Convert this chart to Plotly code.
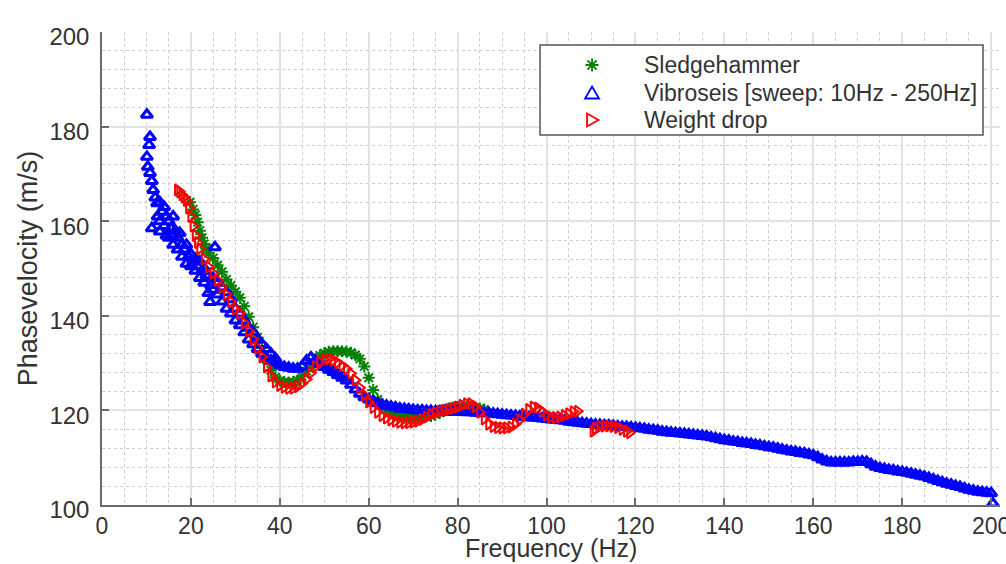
import plotly.graph_objects as go

# ---------------- data ----------------
# Vibroseis: scattered low-frequency points
vib_low_freq = [10.1, 10.8, 10.6, 10.1, 10.3, 10.8, 11.2, 11.5, 11.2, 12.0, 12.4, 12.5, 13, 13, 13, 13.5,
                14, 14, 14.5, 14.5, 15, 15, 15.5, 16, 16, 16, 16.5, 17, 17, 17.5, 18, 18, 18.5, 19, 19,
                19.5, 20, 20, 20.5, 21, 21, 21.5, 22, 22, 22.5, 23, 23, 23.5, 23.9, 24.3, 25.4, 24, 24.5,
                25, 25, 26, 26, 27, 27, 28, 28, 29, 29, 30, 30, 31, 31, 32, 32, 33, 33, 34, 34, 35, 35,
                36, 36, 37, 37, 38, 38, 39, 39]
vib_low_vel = [182.5, 177.8, 176.1, 173.6, 171.5, 170.2, 168.5, 166.6, 158.5, 165, 163.8, 161, 164, 160,
               157.8, 162, 163, 159, 161, 157, 160, 156.5, 158.5, 161, 157, 155, 158, 156.5, 154, 157.5,
               155, 152.5, 154, 155, 151, 152.5, 153, 150.5, 151.5, 152, 149.5, 150.5, 151.5, 148, 149.5,
               150, 147, 148.5, 144.8, 142.9, 154.5, 148.5, 146.5, 148, 145.5, 147, 144.5, 146, 143, 145,
               141.5, 143.5, 140.5, 141.5, 139, 140.5, 138, 139, 136.5, 137.5, 135, 136.5, 134, 135, 133,
               134, 132, 133, 131, 132, 130.5, 131, 130]
# Vibroseis: main curve 40 ... 200 Hz (1 Hz steps) + last lone point
vib_main_freq = list(range(40, 201)) + [200.4]
vib_main_vel = [
    129.5, 129.2, 129, 128.8, 128.8, 129.3, 130.5, 131.2, 130.5, 129.8,
    129.2, 128.6, 128.1, 127.5, 126.9, 126.3, 125.4, 124.4, 123.5, 122.8,
    122.3, 121.9, 121.5, 121.2, 121, 120.8, 120.6, 120.4, 120.3, 120.2,
    120.1, 120, 120, 119.9, 119.9, 119.8, 119.8, 119.8, 119.7, 119.7,
    119.7, 119.7, 119.6, 119.6, 119.5, 119.5, 119.4, 119.4, 119.3, 119.2,
    119.1, 119, 118.9, 118.8, 118.7, 118.6, 118.5, 118.5, 118.4, 118.3,
    118.2, 118.1, 118, 117.9, 117.8, 117.6, 117.5, 117.4, 117.3, 117.2,
    117.1, 117, 116.9, 116.8, 116.8, 116.7, 116.6, 116.5, 116.5, 116.4,
    116.3, 116.2, 116.1, 115.9, 115.8, 115.7, 115.5, 115.4, 115.3, 115.2,
    115.1, 115, 114.9, 114.8, 114.7, 114.6, 114.5, 114.3, 114.1, 113.9,
    113.7, 113.6, 113.4, 113.3, 113.1, 113, 112.9, 112.7, 112.6, 112.4,
    112.2, 112.1, 111.9, 111.7, 111.5, 111.3, 111.2, 111, 110.9, 110.7,
    110.5, 110.1, 109.6, 109.2, 109, 109, 109, 109, 109, 109.1,
    109.1, 109.2, 109.1, 108.6, 108.1, 107.8, 107.6, 107.4, 107.3, 107.1,
    107, 106.8, 106.6, 106.4, 106.2, 106, 105.7, 105.4, 105.1, 104.8,
    104.5, 104.3, 104, 103.8, 103.5, 103.2, 103, 102.8, 102.7, 102.6,
    102.5, 100.3]

# Weight drop
wd_freq = ([17, 17.5, 18, 18.5, 19, 19.5, 20, 20.5, 21, 21.5, 22] + list(range(23, 108))
           + [110.5, 111, 112, 113, 114, 115, 116, 117, 118, 118.7])
wd_vel = [
    166.6, 166.2, 165.6, 165.1, 164.4, 162.8, 161, 159, 157, 155.5, 154.2,
    152, 150.3, 149, 147.5, 146, 144.5, 143,                                   # 23-29
    141.5, 140.5, 138.5, 136.8, 135, 133.2, 131.3, 129.2, 127.3, 126,          # 30-39
    125.3, 124.9, 124.7, 124.7, 125, 125.7, 126.6, 127.9, 129.2, 130.2,        # 40-49
    130.7, 130.8, 130.6, 130.1, 129.5, 128.8, 127.8, 126.4, 124.8, 123.2,      # 50-59
    121.8, 120.6, 119.6, 118.9, 118.4, 118, 117.7, 117.5, 117.4, 117.4,        # 60-69
    117.5, 117.7, 118.1, 118.6, 119.1, 119.5, 119.8, 120, 120.2, 120.4,        # 70-79
    120.7, 121.1, 121.4, 121.4, 120.8, 119.6, 118.2, 117.1, 116.6, 116.4,      # 80-89
    116.3, 116.3, 116.5, 117.1, 118, 119.2, 120.2, 120.7, 120.5, 119.8,        # 90-99
    119, 118.6, 118.5, 118.6, 118.9, 119.3, 119.7, 119.8,                      # 100-107
    115.6, 116.2, 116.6, 116.7, 116.7, 116.6, 116.4, 116.0, 115.6, 115.3]

# Sledgehammer
sh_freq = [19.8, 20.5, 21, 21.5, 22, 22.5, 23, 23.5] + list(range(24, 87))
sh_vel = [
    164, 162.5, 161.3, 159.8, 158, 156.5, 155.2, 154.2,
    153.2, 152.2, 150.7, 149.3, 147.7, 146.4,                                  # 24-29
    145.1, 143.8, 142, 139.8, 137.6, 135.4, 133.2, 130.8, 128.5, 127,          # 30-39
    126.3, 126, 125.9, 126, 126.4, 127.2, 128.3, 129.6, 130.8, 131.6,          # 40-49
    132.1, 132.4, 132.5, 132.5, 132.5, 132.4, 132.2, 131.7, 130.9, 129.3,      # 50-59
    126.9, 124.3, 122.3, 121, 120.2, 119.7, 119.3, 119.1, 118.9, 118.8,        # 60-69
    118.7, 118.6, 118.6, 118.7, 118.8, 119.1, 119.5, 120, 120.4, 120.6,        # 70-79
    120.7, 120.8, 120.8, 120.7, 120.6, 120.4, 120.2]                           # 80-86

series_names = ["Sledgehammer", "Vibroseis [sweep: 10Hz - 250Hz]", "Weight drop"]
x_ticks = [0, 20, 40, 60, 80, 100, 120, 140, 160, 180, 200]
y_ticks = [100, 120, 140, 160, 180, 200]
x_title = "Frequency (Hz)"
y_title = "Phasevelocity (m/s)"

# ---------------- styles ----------------
FONT = "Liberation Sans, Arial, Helvetica, sans-serif"
AXIS_COL = "#6a6a6a"
TEXT_COL = "#333333"
GREEN, BLUE, RED = "#008000", "#0000ff", "#ff0000"
SYMBOLS = ["asterisk-open", "triangle-up-open", "triangle-right-open"]
COLORS = [GREEN, BLUE, RED]

fig = go.Figure()
fig.add_trace(go.Scatter(
    x=sh_freq, y=sh_vel, mode="markers", name=series_names[0], showlegend=False,
    marker=dict(symbol=SYMBOLS[0], size=10, color=GREEN, line=dict(color=GREEN, width=2))))
fig.add_trace(go.Scatter(
    x=vib_low_freq + vib_main_freq, y=vib_low_vel + vib_main_vel, mode="markers",
    name=series_names[1], showlegend=False,
    marker=dict(symbol=SYMBOLS[1], size=10, color=BLUE, line=dict(color=BLUE, width=3))))
fig.add_trace(go.Scatter(
    x=wd_freq, y=wd_vel, mode="markers", name=series_names[2], showlegend=False,
    marker=dict(symbol=SYMBOLS[2], size=10, color=RED, line=dict(color=RED, width=2))))

# ---- hand-drawn legend box (MATLAB style) ----
L_LEFT, L_RIGHT, L_TOP, L_BOTTOM = 0.4878, 0.9811, 0.9725, 0.7822
KEY_X, TEXT_X = 0.5457, 0.6013
ROW_Y = [0.9302, 0.8710, 0.8140]
KEY_PATHS = [
    "M-6.5,0L6.5,0M0,-6.5L0,6.5M-4.6,-4.6L4.6,4.6M-4.6,4.6L4.6,-4.6",   # asterisk
    "M-7,-5.5L7,-5.5L0,6.5Z",                                            # triangle up (y up)
    "M-5,-6.5L6.5,0L-5,6.5Z",                                            # triangle right
]
fig.add_shape(type="rect", xref="paper", yref="paper", x0=L_LEFT, x1=L_RIGHT, y0=L_BOTTOM, y1=L_TOP,
              line=dict(color="#555555", width=1.5), fillcolor="white", layer="above")
for i, name in enumerate(series_names):
    fig.add_shape(type="path", xref="paper", yref="paper", xsizemode="pixel", ysizemode="pixel",
                  xanchor=KEY_X, yanchor=ROW_Y[i], path=KEY_PATHS[i],
                  line=dict(color=COLORS[i], width=1.8), layer="above")
    fig.add_annotation(x=TEXT_X, y=ROW_Y[i], xref="paper", yref="paper", text=name, showarrow=False,
                       xanchor="left", yanchor="middle",
                       font=dict(family=FONT, size=23, color=TEXT_COL))

# x-axis title placed as a centred text just under the tick labels
fig.add_annotation(x=0.5, y=0, xref="paper", yref="paper", text=x_title, showarrow=False,
                   xanchor="center", yanchor="top", yshift=-28, borderpad=0,
                   font=dict(family=FONT, size=25, color=TEXT_COL))

axis_common = dict(
    showline=True, linecolor=AXIS_COL, linewidth=1.5, mirror=False,
    ticks="inside", ticklen=7, tickwidth=1.5, tickcolor=AXIS_COL,
    showgrid=True, gridcolor="#e2e2e2", gridwidth=1.5,
    zeroline=False, ticklabeloverflow="allow", automargin=False,
)

xaxis_cfg = dict(
    range=[0, 202], tickmode="array", tickvals=x_ticks, ticktext=[str(v) for v in x_ticks],
    minor=dict(dtick=5, showgrid=True, gridcolor="#cfcfcf", griddash="dot", gridwidth=1, ticks=""),
    tickfont=dict(family=FONT, size=23, color=TEXT_COL),
    ticklabelstandoff=0,
    **axis_common)
yaxis_cfg = dict(
    range=[100, 200], tickmode="array", tickvals=y_ticks, ticktext=[str(v) for v in y_ticks],
    minor=dict(dtick=4, showgrid=True, gridcolor="#cfcfcf", griddash="dot", gridwidth=1, ticks=""),
    tickfont=dict(family=FONT, size=24, color=TEXT_COL),
    title=dict(text=y_title, font=dict(family=FONT, size=27, color=TEXT_COL), standoff=4),
    ticklabelstandoff=6, ticklabelshift=5,
    **axis_common)

fig.update_layout(
    width=1006, height=564,
    margin=dict(l=102, r=6, t=32, b=59),
    paper_bgcolor="white", plot_bgcolor="white",
    showlegend=False,
    xaxis=xaxis_cfg,
    yaxis=yaxis_cfg,
)

fig.write_html("out.html")
